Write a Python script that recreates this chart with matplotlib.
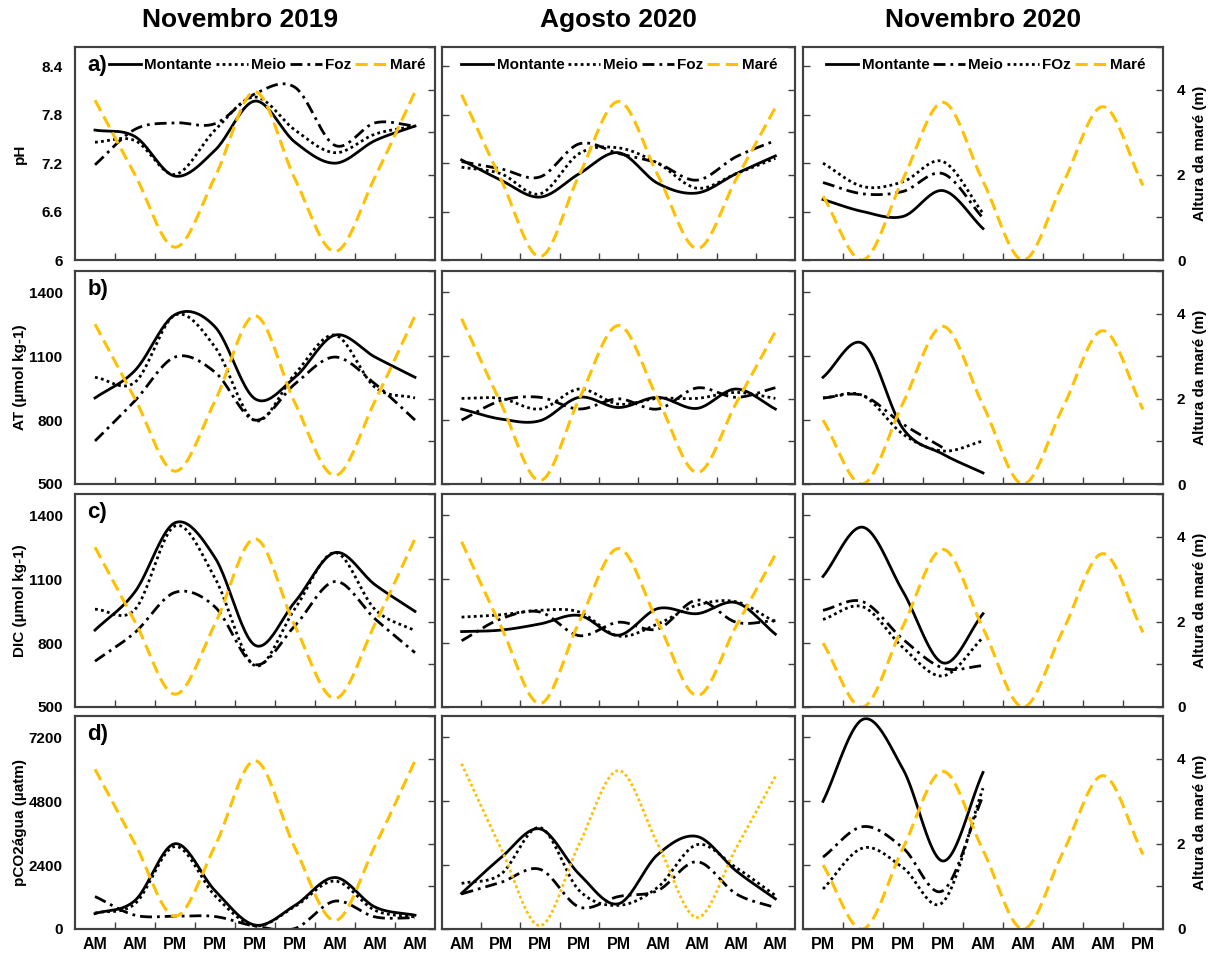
import numpy as np
import matplotlib
matplotlib.use("Agg")
import matplotlib.pyplot as plt
from matplotlib.lines import Line2D

plt.rcParams['font.family'] = ['Liberation Sans', 'DejaVu Sans']
plt.rcParams['font.weight'] = 'bold'

# x categories (sampling times) for each campaign
cats_nov19 = ["AM", "AM", "PM", "PM", "PM", "PM", "AM", "AM", "AM"]
cats_ago20 = ["AM", "PM", "PM", "PM", "PM", "AM", "AM", "AM", "AM"]
cats_nov20 = ["PM", "PM", "PM", "PM", "AM", "AM", "AM", "AM", "PM"]

# tide height (m)
mare_nov19 = [3.75, 2.0, 0.3, 1.95, 3.95, 1.9, 0.2, 1.95, 3.95]
mare_ago20 = [3.88, 1.9, 0.08, 2.0, 3.72, 2.0, 0.27, 1.9, 3.58]
mare_nov20 = [1.5, 0.0, 1.9, 3.7, 1.85, 0.0, 1.8, 3.6, 1.75]

# Novembro 2019
ph_mont_nov19 = [7.61, 7.53, 7.04, 7.36, 7.97, 7.46, 7.20, 7.48, 7.66]
ph_meio_nov19 = [7.46, 7.48, 7.06, 7.61, 8.02, 7.61, 7.33, 7.56, 7.66]
ph_foz_nov19 = [7.18, 7.62, 7.70, 7.69, 8.06, 8.14, 7.42, 7.70, 7.66]
at_mont_nov19 = [904, 1033, 1295, 1238, 900, 1001, 1199, 1096, 1001]
at_meio_nov19 = [1001, 978, 1293, 1143, 797, 1017, 1199, 954, 904]
at_foz_nov19 = [702, 891, 1096, 1025, 800, 970, 1096, 970, 800]
dic_mont_nov19 = [861, 1041, 1365, 1201, 790, 994, 1225, 1074, 949]
dic_meio_nov19 = [959, 958, 1350, 1105, 694, 962, 1225, 958, 858]
dic_foz_nov19 = [715, 850, 1038, 970, 699, 882, 1089, 914, 755]
pco2_mont_nov19 = [577, 1072, 3203, 1442, 148, 888, 1934, 825, 518]
pco2_meio_nov19 = [600, 950, 3100, 1250, 120, 850, 1800, 700, 450]
pco2_foz_nov19 = [1220, 518, 480, 470, 110, 20, 1047, 455, 420]

# Agosto 2020
ph_mont_ago20 = [7.24, 6.99, 6.78, 7.07, 7.33, 6.95, 6.83, 7.07, 7.29]
ph_meio_ago20 = [7.15, 7.07, 6.82, 7.32, 7.39, 7.20, 6.89, 7.07, 7.26]
ph_foz_ago20 = [7.22, 7.13, 7.03, 7.44, 7.32, 7.20, 6.99, 7.28, 7.48]
at_mont_ago20 = [852, 805, 797, 907, 859, 907, 855, 946, 852]
at_meio_ago20 = [902, 902, 852, 946, 875, 902, 902, 930, 902]
at_foz_ago20 = [800, 891, 907, 852, 900, 852, 951, 907, 952]
dic_mont_ago20 = [854, 861, 890, 930, 837, 962, 938, 990, 842]
dic_meio_ago20 = [922, 933, 954, 946, 833, 890, 978, 994, 898]
dic_foz_ago20 = [811, 914, 946, 835, 898, 866, 1002, 898, 906]
pco2_mont_ago20 = [1342, 2673, 3758, 2057, 948, 2797, 3476, 2181, 1133]
pco2_meio_ago20 = [1712, 2057, 3808, 1442, 888, 1565, 3166, 2304, 1257]
pco2_foz_ago20 = [1318, 1749, 2242, 825, 1220, 1442, 2526, 1318, 800]

# Novembro 2020 (only the first 5 samples)
ph_mont_nov20 = [6.75, 6.60, 6.54, 6.86, 6.39]
ph_meio_nov20 = [6.96, 6.82, 6.85, 7.07, 6.52]
ph_foz_nov20 = [7.20, 6.91, 6.97, 7.22, 6.58]
at_mont_nov20 = [1001, 1159, 760, 640, 552]
at_meio_nov20 = [904, 915, 781, 670]
at_foz_nov20 = [904, 915, 734, 655, 702]
dic_mont_nov20 = [1113, 1344, 1042, 707, 938]
dic_meio_nov20 = [954, 994, 818, 683, 694]
dic_foz_nov20 = [911, 970, 779, 646, 826]
pco2_mont_nov20 = [4793, 7877, 6002, 2552, 5880]
pco2_meio_nov20 = [2700, 3846, 3044, 1442, 5000]
pco2_foz_nov20 = [1502, 3044, 2304, 1010, 5288]

GOLD = "#FFC000"
SPINE = "#404040"
SOLID = dict(color="black", lw=2.0, ls="-")
DOTTED = dict(color="black", lw=2.0, ls=(0, (1, 1.2)))
DASHDOT = dict(color="black", lw=2.0, ls=(0, (4.3, 1.8, 1, 1.8)))
TIDE = dict(color=GOLD, lw=2.2, ls=(0, (4, 2)))


def smooth(y, n=24):
    # Catmull-Rom curve through the points (like a spreadsheet "smoothed line")
    y = np.asarray(y, float)
    x = np.arange(len(y), dtype=float)
    if len(y) < 3:
        return x, y
    xs, ys = [], []
    for i in range(len(y) - 1):
        p0 = y[i - 1] if i > 0 else 2 * y[0] - y[1]
        p3 = y[i + 2] if i + 2 < len(y) else 2 * y[-1] - y[-2]
        p1, p2 = y[i], y[i + 1]
        t = np.linspace(0, 1, n, endpoint=False)
        seg = 0.5 * ((2 * p1) + (-p0 + p2) * t + (2 * p0 - 5 * p1 + 4 * p2 - p3) * t ** 2
                     + (-p0 + 3 * p1 - 3 * p2 + p3) * t ** 3)
        xs.append(x[i] + t)
        ys.append(seg)
    xs.append([x[-1]])
    ys.append([y[-1]])
    return np.concatenate(xs), np.concatenate(ys)


columns = [
    ("Novembro 2019", cats_nov19, mare_nov19,
     [(ph_mont_nov19, ph_meio_nov19, ph_foz_nov19),
      (at_mont_nov19, at_meio_nov19, at_foz_nov19),
      (dic_mont_nov19, dic_meio_nov19, dic_foz_nov19),
      (pco2_mont_nov19, pco2_meio_nov19, pco2_foz_nov19)]),
    ("Agosto 2020", cats_ago20, mare_ago20,
     [(ph_mont_ago20, ph_meio_ago20, ph_foz_ago20),
      (at_mont_ago20, at_meio_ago20, at_foz_ago20),
      (dic_mont_ago20, dic_meio_ago20, dic_foz_ago20),
      (pco2_mont_ago20, pco2_meio_ago20, pco2_foz_ago20)]),
    ("Novembro 2020", cats_nov20, mare_nov20,
     [(ph_mont_nov20, ph_meio_nov20, ph_foz_nov20),
      (at_mont_nov20, at_meio_nov20, at_foz_nov20),
      (dic_mont_nov20, dic_meio_nov20, dic_foz_nov20),
      (pco2_mont_nov20, pco2_meio_nov20, pco2_foz_nov20)]),
]

ylims = [(6, 8.64), (500, 1500), (500, 1500), (0, 8000)]
yticks = [[6, 6.6, 7.2, 7.8, 8.4], [500, 800, 1100, 1400], [500, 800, 1100, 1400], [0, 2400, 4800, 7200]]
yticklabels = [["6", "6.6", "7.2", "7.8", "8.4"], ["500", "800", "1100", "1400"],
               ["500", "800", "1100", "1400"], ["0", "2400", "4800", "7200"]]
ylabels = ["pH", "AT (µmol kg-1)", "DIC (µmol kg-1)", "pCO2água (µatm)"]
letters = ["a)", "b)", "c)", "d)"]

W, H = 1217, 958
fig = plt.figure(figsize=(W / 100, H / 100), dpi=100)

col_left = [75, 442, 803]
col_width = [360, 353, 360]
row_top = [47, 271, 494, 716]
row_h = 213

# Meio/Foz styles are swapped in the last campaign
styles = [(SOLID, DOTTED, DASHDOT), (SOLID, DOTTED, DASHDOT), (SOLID, DASHDOT, DOTTED)]
leg_names = [("Montante", "Meio", "Foz", "Maré"), ("Montante", "Meio", "Foz", "Maré"),
             ("Montante", "Meio", "FOz", "Maré")]
leg_x = [0.095, 0.055, 0.065]

for c, (title, cats, mare, rows) in enumerate(columns):
    fig.text((240 if c == 0 else col_left[c] + col_width[c] / 2) / W, 1 - 20 / H, title,
             ha="center", va="center", fontsize=19, fontweight="bold")
    for r, series in enumerate(rows):
        rect = [col_left[c] / W, 1 - (row_top[r] + row_h) / H, col_width[c] / W, row_h / H]
        ax = fig.add_axes(rect)
        for vals, st in zip(series, styles[c]):
            xs, ys = smooth(vals)
            ax.plot(xs, ys, **st)
        ax.set_xlim(-0.5, len(cats) - 0.5)
        ax.set_ylim(*ylims[r])
        ax.set_yticks(yticks[r])
        ax.set_xticks(range(len(cats)))
        ax.set_xticks(np.arange(0.5, len(cats) - 1), minor=True)
        ax.tick_params(axis="x", which="major", length=0, pad=6, labelsize=11.5)
        ax.tick_params(axis="x", which="minor", direction="in", length=5, width=1, color=SPINE)
        ax.tick_params(axis="y", direction="in", length=5, width=1, color=SPINE, labelsize=11)
        if r == 3:
            ax.set_xticklabels(cats, fontweight="bold")
        else:
            ax.set_xticklabels([])
        if c == 0:
            ax.set_yticklabels(yticklabels[r], fontweight="bold")
            ax.tick_params(axis="y", length=0, pad=9)
            ax.text(0.035, 0.915, letters[r], transform=ax.transAxes,
                    fontsize=16, fontweight="bold", va="center", ha="left")
        else:
            ax.set_yticklabels([])
        for sp in ax.spines.values():
            sp.set_color(SPINE)
            sp.set_linewidth(1.5)

        tide_style = dict(TIDE)
        if c == 1 and r == 3:
            tide_style["ls"] = (0, (1, 1))
            tide_style["lw"] = 2.0
        ax2 = ax.twinx()
        xs, ys = smooth(mare)
        ax2.plot(xs, ys, **tide_style)
        ax2.set_ylim(0, 5)
        ax2.set_yticks(range(6))
        ax2.tick_params(axis="y", direction="in", length=5, width=1, color=SPINE, labelsize=11)
        if c == 2:
            ax2.set_yticklabels(["0", "", "2", "", "4", ""], fontweight="bold")
            ax2.tick_params(axis="y", pad=10)
        else:
            ax2.set_yticklabels([])
        for sp in ax2.spines.values():
            sp.set_color(SPINE)
            sp.set_linewidth(1.5)

        if r == 0:
            handles = [Line2D([], [], **styles[c][0]), Line2D([], [], **styles[c][1]),
                       Line2D([], [], **styles[c][2]), Line2D([], [], **TIDE)]
            ax2.legend(handles, leg_names[c], loc="center left", bbox_to_anchor=(leg_x[c], 0.915),
                       ncol=4, frameon=False, handlelength=2.1, handletextpad=0.2,
                       columnspacing=0.25, borderpad=0, borderaxespad=0,
                       prop=dict(weight="bold", size=11))

        # row labels
        if c == 0:
            fig.text(20 / W, 1 - (row_top[r] + row_h / 2) / H, ylabels[r], rotation=90,
                     ha="center", va="center", fontsize=11, fontweight="bold")
        if c == 2:
            fig.text(1200 / W, 1 - (row_top[r] + row_h / 2) / H, "Altura da maré (m)", rotation=90,
                     ha="center", va="center", fontsize=11, fontweight="bold")

fig.savefig("out.png", dpi=100)
